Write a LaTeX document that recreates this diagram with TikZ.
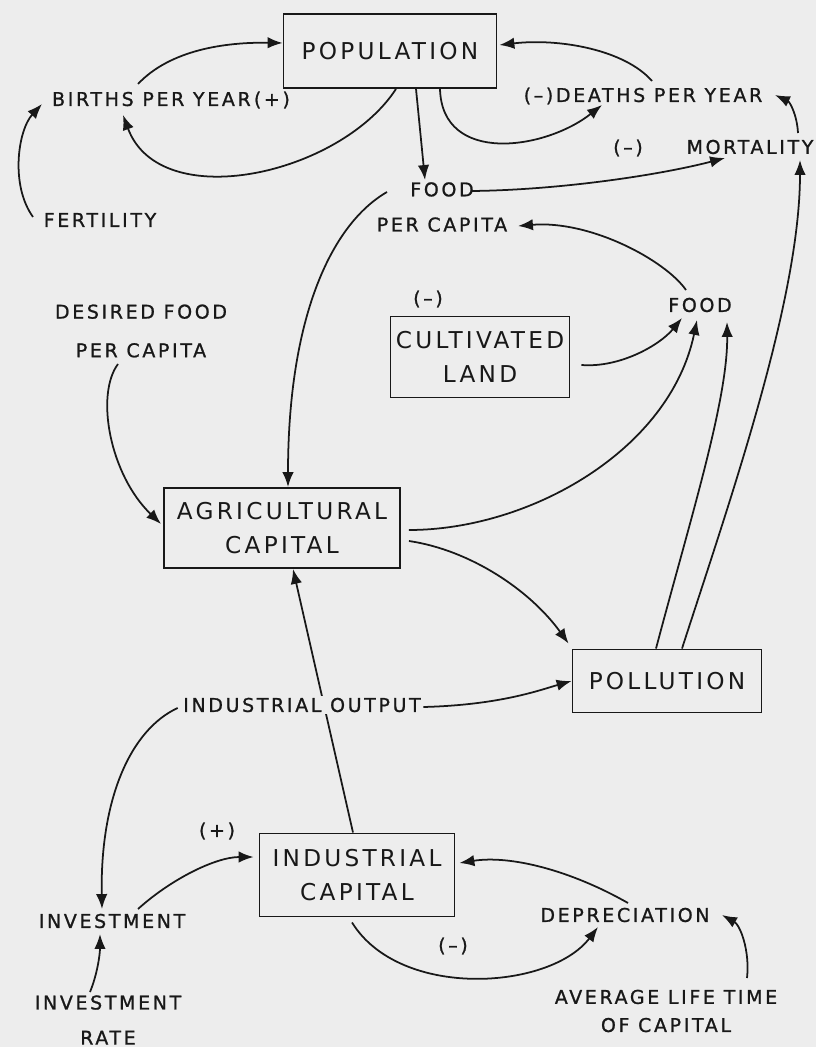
\documentclass[tikz,border=0pt]{standalone}
\usepackage{fontspec}
\newfontfamily\boxfont[LetterSpace=14]{DejaVu Sans}
\newfontfamily\lblfont[LetterSpace=14,FakeBold=1]{DejaVu Sans}
\usetikzlibrary{calc}
\usetikzlibrary{backgrounds}
\usetikzlibrary{arrows.meta}
\definecolor{paper}{RGB}{237,237,237}
\definecolor{ink}{RGB}{24,24,24}
\newcommand{\boxsize}{\fontsize{13.2}{19}\selectfont}
\newcommand{\lblsize}{\fontsize{10.8}{20}\selectfont}

\begin{document}
\begin{tikzpicture}[x=0.02cm,y=-0.02cm,line width=1pt,color=ink]
\tikzstyle{box}=[draw, rectangle, line width=1.1pt, align=center, font=\boxfont\boxsize, inner sep=0pt]
\tikzstyle{lbl}=[align=center, font=\lblfont\lblsize, inner sep=1pt]
\tikzstyle{flow}=[line width=1pt, -{Latex[length=8.5pt,width=6.5pt]}]
\useasboundingbox (0,0) rectangle (816,1047);

% population loop
\node (pop) at (390,51) [box, minimum width=4.26cm, minimum height=1.48cm] {POPULATION};
\node (births) at (171,100) [lbl] {BIRTHS PER YEAR\,(+)};
\node (fert) at (100,220) [lbl] {FERTILITY};
\node (deaths) at (643,96) [lbl] {(\textendash)DEATHS PER YEAR};
\node (minusd) at (628,148) [lbl] {(\textendash)};
\node (mort) at (750,147) [lbl] {MORTALITY};
\node (fpc) at (442,207) [lbl] {FOOD\\PER CAPITA};

% food and agriculture
\node (minusl) at (428,299) [lbl] {(\textendash)};
\node (land) at (480,357) [box, minimum width=3.58cm, minimum height=1.62cm] {CULTIVATED\\LAND};
\node (food) at (700,305) [lbl] {FOOD};
\node (dfpc) at (141,331) [lbl] {DESIRED FOOD\\[2pt]PER CAPITA};
\node (agri) at (282,528) [box, minimum width=4.72cm, minimum height=1.6cm] {AGRICULTURAL\\CAPITAL};
\node (poll) at (667,681) [box, minimum width=3.78cm, minimum height=1.26cm] {POLLUTION};

% industry
\node (indout) at (302,705) [lbl, fill=paper] {INDUSTRIAL OUTPUT};
\node (ind) at (357,875) [box, minimum width=3.9cm, minimum height=1.66cm] {INDUSTRIAL\\CAPITAL};
\node (plus) at (217,831) [lbl] {(+)};
\node (inv) at (112,921) [lbl] {INVESTMENT};
\node (invrate) at (108,1020) [lbl] {INVESTMENT\\RATE};
\node (depr) at (625,915) [lbl] {DEPRECIATION};
\node (minusi) at (453,946) [lbl] {(\textendash)};
\node (alt) at (666,1011) [lbl] {AVERAGE LIFE TIME\\[-4pt]OF CAPITAL};

\begin{scope}[on background layer]
\fill[paper] (0,0) rectangle (816,1047);
\draw[flow,ink] ($(ind.north)+(-4,0)$) -- ($(agri.south)+(11,0)$);
\end{scope}

% births and deaths
\draw[flow] ($(births)+(-33,-16)$) .. controls (170,50) and (225,42) .. ($(pop.west)+(0,-8)$);
\draw[flow] ($(pop.south)+(6,0)$) .. controls (340,175) and (160,215) .. ($(births)+(-48,15)$);
\draw[flow] ($(fert)+(-67,-3)$) .. controls (10,185) and (18,130) .. ($(births)+(-129,4)$);
\draw[flow] ($(deaths)+(9,-15)$) .. controls (625,50) and (560,38) .. ($(pop.east)+(2,-6)$);
\draw[flow] ($(pop.south)+(50,0)$) .. controls (442,165) and (545,150) .. ($(deaths)+(-41,9)$);
\draw[flow] ($(mort)+(48,-14)$) .. controls (797,115) and (790,102) .. ($(deaths)+(132,-1)$);
\draw[flow] ($(fpc)+(30,-16)$) .. controls (560,190) and (660,175) .. ($(mort)+(-25,11)$);
\draw[flow] ($(pop.south)+(26,0)$) -- ($(fpc)+(-17,-27)$);

% food links
\draw[flow] ($(food)+(-14,-15)$) .. controls (665,260) and (590,220) .. ($(fpc)+(76,19)$);
\draw[flow] ($(poll.north)+(15,0)$) .. controls (730,500) and (800,300) .. ($(mort)+(50,13)$);
\draw[flow] ($(fpc)+(-55,-15)$) .. controls (330,225) and (288,320) .. ($(agri.north)+(6,0)$);
\draw[flow] ($(dfpc)+(-23,33)$) .. controls (95,395) and (110,475) .. ($(agri.west)+(-2,-4)$);
\draw[flow] ($(land.east)+(11,8)$) .. controls (620,368) and (660,345) .. ($(food)+(-18,13)$);
\draw[flow] ($(agri.east)+(8,2)$) .. controls (530,530) and (670,450) .. ($(food)+(-3,15)$);
\draw[flow] ($(agri.east)+(8,13)$) .. controls (470,550) and (530,590) .. ($(poll.north west)+(-3,-5)$);
\draw[flow] ($(poll.north)+(-11,0)$) .. controls (690,520) and (728,400) .. ($(food)+(27,17)$);

% capital loop
\draw[flow] ($(indout.east)+(0,2)$) .. controls (500,705) and (540,690) .. (poll.west);
\draw[flow] ($(indout.west)+(-3,3)$) .. controls (130,730) and (100,800) .. ($(inv)+(-10,-12)$);
\draw[flow] ($(inv)+(26,-12)$) .. controls (170,880) and (215,857) .. ($(ind.west)+(-5,-18)$);
\draw[flow] ($(invrate)+(-18,-28)$) .. controls (97,975) and (100,955) .. ($(inv)+(-12,13)$);
\draw[flow] ($(ind.south)+(-5,5)$) .. controls (400,1000) and (550,990) .. ($(depr)+(-27,12)$);
\draw[flow] ($(depr)+(3,-12)$) .. controls (570,870) and (510,855) .. ($(ind.east)+(4,-12)$);
\draw[flow] ($(alt)+(81,-33)$) .. controls (750,950) and (740,925) .. ($(depr)+(97,0)$);
\end{tikzpicture}
\end{document}
